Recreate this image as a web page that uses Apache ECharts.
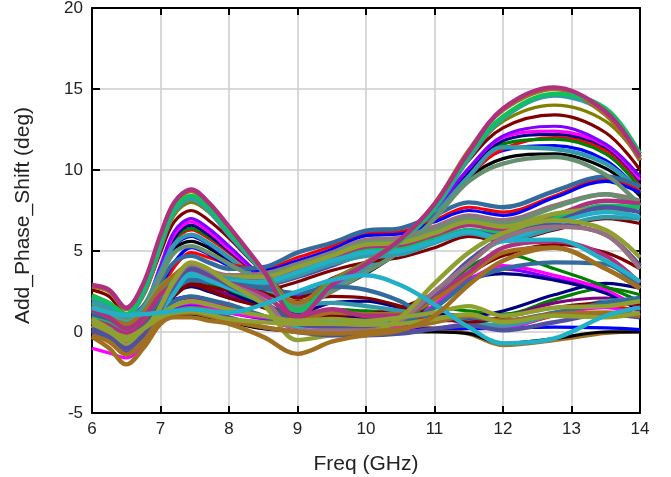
<!DOCTYPE html>
<html><head><meta charset="utf-8">
<script src="https://cdn.jsdelivr.net/npm/echarts@6/dist/echarts.min.js"></script>
<style>html,body{margin:0;background:#fff}#c{width:671px;height:477px}</style></head>
<body><div id="c"></div>
<script>
const freqs=[6,6.25,6.5,6.75,7,7.2,7.45,7.7,8,8.5,9,9.5,10,10.5,11,11.5,12,12.75,13.5,14];
const k='#000000',b='#0000ff',r='#ff0000',g='#008000',n='#000080',m='#ff00ff',v='#8000ff',p='#800080',d='#800000',o='#808000',t='#339aaa',s='#336b9c',a='#99707f',q='#669070',e='#b03080',c='#10c060',l='#50509f',y='#90a030',u='#20b0c8',w='#a07020';
const thin=[k,b,r,g,n,m,v,p,d,o];
// low group
const lowBlack=[0.5,0.1,-0.2,0.4,0.9,1.0,1.0,0.8,0.6,0.2,0.05,0.0,0.0,0.0,0.0,-0.1,-0.7,-0.4,0.0,0.0];
const lowBlue=[1.2,0.8,0.3,0.7,1.6,2.0,2.2,2.0,1.6,0.9,0.4,0.3,0.2,0.2,0.2,0.2,0.25,0.3,0.25,0.15];
const lowRed=[0.6,0.1,-0.4,0.3,1.3,1.9,2.1,1.9,1.6,1.0,0.6,0.6,0.5,0.6,0.9,0.5,0.3,1.0,1.6,1.3];
const lowGreen=[1.1,0.6,0.1,0.8,1.9,2.6,2.9,2.6,2.3,1.7,1.1,1.4,1.3,1.2,1.5,1.3,1.1,2.0,2.7,2.3];
const lowNavy=[1.0,0.6,0.1,0.6,1.6,2.4,2.8,2.5,2.1,1.6,1.2,1.8,1.9,1.5,1.2,1.0,1.3,2.3,3.0,2.7];
const lowMagenta=[-1.0,-1.3,-1.6,-0.8,0.7,1.6,1.9,1.8,1.4,0.8,0.2,0.0,-0.1,0.0,0.2,0.5,0.2,1.1,1.5,1.0];
const lowPurple=[0.6,0.0,-0.7,0.0,1.5,2.6,3.1,2.8,2.3,1.6,0.7,1.0,0.6,0.4,0.7,0.7,0.9,1.8,2.1,1.6];
const lowSlate=[0.2,-0.3,-1.0,-0.2,0.9,1.3,1.4,1.2,0.9,0.3,0.0,-0.2,-0.2,-0.1,0.2,0.4,0.1,0.6,1.1,0.9];
const lowOlive=[0.6,0.1,-0.3,0.2,0.9,1.2,1.3,1.1,0.8,0.6,0.5,0.5,0.45,0.5,0.8,1.1,0.6,1.0,0.9,1.2];
const lowTeal=[1.4,1.0,0.5,1.2,2.4,3.3,3.9,3.6,3.2,2.5,1.7,1.8,1.6,1.3,1.0,0.6,0.4,1.1,1.9,2.0];
const lowSteel=[1.3,0.9,0.4,1.0,1.9,2.6,3.2,3.1,3.0,2.7,2.4,2.8,2.6,1.9,0.8,0.9,0.7,1.2,1.8,2.1];
const lowMaroon=[1.5,1.0,0.4,1.1,2.3,3.0,3.4,3.1,2.8,2.4,1.9,2.2,2.1,1.6,1.0,0.6,0.9,1.5,1.8,1.7];
const lowOlive2=[0.8,0.2,-0.5,0.2,1.1,1.6,1.9,1.7,1.4,1.0,0.7,0.8,0.7,0.9,1.2,1.6,1.0,1.5,1.6,1.9];
const lowBrownFlat=[-0.2,-0.6,-1.4,-0.6,0.8,1.1,1.2,1.0,0.7,0.3,0.0,-0.1,0.0,0.2,0.6,1.0,0.7,1.1,1.2,1.0];
const trough=[1.5,1.2,1.05,1.1,1.2,1.3,1.4,1.3,1.2,1.7,2.5,3.2,3.5,2.9,1.7,0.3,-0.7,-0.4,1.0,1.5];
const troughBrown=[0.9,0.6,0.3,0.6,1.2,1.5,1.6,1.4,1.2,0.9,0.7,0.5,0.4,0.3,0.2,-0.1,-0.8,-0.5,-0.05,0.05];
const bottomBrown=[-0.3,-1.0,-2.0,-1.0,0.5,0.9,0.9,0.7,0.5,-0.3,-1.35,-0.6,-0.2,0.1,1.0,2.9,4.4,5.2,3.9,2.7];
// mid-up group, low at 10 then rising to 4-7
const upOlive=[0.4,-0.1,-0.8,0.0,1.6,3.2,4.3,3.9,3.0,1.7,-0.5,-0.2,-0.1,0.9,3.0,4.9,6.1,6.9,6.3,4.6];
const upSlate=[0.1,-0.5,-1.2,-0.4,1.4,3.0,3.9,3.6,2.9,1.9,0.5,0.3,0.2,0.8,2.4,4.4,5.8,6.6,6.0,4.1];
const upMauve=[0.4,-0.3,-1.0,-0.3,1.5,3.1,4.2,3.8,3.0,2.0,0.1,0.1,0.1,0.7,2.5,4.2,5.8,6.5,6.0,3.9];
const upCyan=[0.7,0.2,-0.5,0.1,1.3,2.4,3.6,3.2,2.7,1.8,0.3,0.6,0.5,0.9,2.4,4.2,5.6,5.7,4.4,3.1];
const upBerry=[1.4,0.9,0.2,0.9,2.3,3.0,3.7,3.4,3.0,2.3,1.0,1.4,1.0,1.0,2.3,3.7,5.2,5.6,4.7,3.0];
const upMaroon=[0.7,0.2,-0.5,0.2,1.4,2.2,2.9,2.6,2.1,1.5,0.8,1.0,1.1,1.5,2.4,3.6,4.7,5.4,4.9,3.9];
const upBrown=[1.5,0.9,0.5,1.2,2.7,3.5,4.2,3.6,3.0,1.8,0.7,1.2,1.1,1.1,2.0,3.5,4.9,5.2,3.9,2.7];
const upGreen=[0.8,0.3,-0.2,0.5,1.8,2.8,3.3,3.0,2.6,1.8,0.9,1.3,1.1,0.9,2.0,4.0,4.8,3.9,2.8,1.9];
const upSteel=[0.4,0.0,-0.5,0.3,1.3,1.9,2.2,2.0,1.7,1.0,0.5,0.6,0.5,0.6,1.5,3.1,3.9,4.3,4.2,2.7];
const upMagenta=[0.3,-0.1,-0.7,0.1,1.1,1.6,1.8,1.6,1.2,0.9,0.7,0.5,0.2,0.4,1.7,3.2,4.1,3.5,2.6,1.4];
const upPurple=[0.0,-0.4,-1.1,-0.4,0.9,1.5,1.7,1.6,1.2,0.8,0.4,0.4,0.7,1.2,2.3,3.3,3.9,3.3,2.5,1.5];
const upNavy=[1.3,0.9,0.3,1.0,2.1,2.9,3.5,3.2,2.5,1.6,1.1,1.0,0.9,1.0,2.0,3.2,3.6,3.2,2.4,1.3];
// mid band, highs at 5-10
const midSteel=[1.7,1.3,0.9,1.6,3.1,4.3,4.7,4.3,3.9,4.0,4.9,5.5,6.25,6.4,7.2,8.0,7.7,8.7,9.6,9.0];
const midRed=[1.2,0.7,0.1,0.6,2.4,4.0,4.9,4.6,4.2,3.9,4.6,5.3,6.1,6.2,6.9,7.7,7.4,8.4,9.45,8.7];
const midBlue=[1.5,1.0,0.3,0.9,2.7,4.3,5.2,4.8,4.1,3.8,4.4,5.1,5.95,6.05,6.8,7.5,7.2,8.3,9.3,8.6];
const midMauve=[0.9,0.4,0.1,0.7,2.1,3.3,4.1,3.8,3.5,3.6,4.2,4.9,5.7,5.8,6.5,7.2,6.9,7.8,8.5,8.1];
const midOlive=[1.3,1.0,0.5,1.4,2.8,3.5,4.0,3.7,3.4,3.4,4.0,4.7,5.4,5.5,6.1,6.8,6.5,7.3,7.6,7.0];
const midSage=[1.6,1.1,0.7,1.3,2.6,3.2,3.6,3.4,3.3,3.5,4.1,4.8,5.55,5.6,6.3,7.0,6.7,7.7,8.5,7.8];
const midBerry=[0.9,0.5,-0.1,0.7,2.2,3.3,3.8,3.6,3.3,3.3,3.8,4.5,5.2,5.3,5.9,6.6,6.3,7.2,8.1,7.9];
const midGreen=[1.0,0.7,0.2,0.9,2.3,3.1,3.4,3.2,3.0,3.1,3.6,4.3,5.0,5.1,5.7,6.3,6.1,7.0,7.8,7.7];
const midSlate=[1.1,0.8,0.3,1.0,2.0,2.8,3.2,3.1,2.9,2.9,3.4,4.1,4.8,4.9,5.6,6.2,5.9,6.8,7.7,7.4];
const midTeal=[1.9,1.5,1.0,1.4,2.7,3.4,3.8,3.5,3.3,3.0,3.5,4.2,4.7,4.8,5.5,6.1,5.7,6.4,7.1,7.0];
const midCyan=[1.3,1.0,0.6,1.1,2.2,3.0,3.5,3.3,3.1,3.1,3.7,4.4,4.9,5.0,5.6,6.2,5.8,6.7,7.4,7.1];
const midMaroon=[0.8,0.4,0.0,0.7,1.8,2.6,3.0,2.8,2.6,2.6,3.1,3.8,4.3,4.6,5.2,5.9,5.6,6.3,7.0,6.7];
// top band, peak at 7.45 and 12.75
const topBlack=[1.6,1.1,0.5,1.3,3.4,5.1,5.6,5.2,4.4,3.1,1.5,2.5,3.6,5.0,7.0,9.5,10.7,11.0,10.1,8.4];
const topBlue=[1.6,1.1,0.5,1.3,3.5,5.3,5.9,5.4,4.5,3.0,1.3,2.6,3.8,5.2,7.4,9.8,11.2,11.5,10.6,8.6];
const topRed=[1.4,1.0,0.5,1.2,3.6,5.6,6.3,5.8,4.9,3.2,1.2,2.6,3.8,5.2,7.3,9.6,11.3,12.0,11.2,9.0];
const topGreen=[1.7,1.3,0.7,1.5,3.8,5.7,6.4,5.9,5.0,3.3,1.4,2.7,3.9,5.3,7.4,9.8,11.6,11.9,11.0,8.9];
const topNavy=[1.9,1.3,0.6,1.3,3.8,5.8,6.6,6.0,5.0,3.3,1.3,2.7,4.0,5.3,7.4,9.9,11.8,12.2,11.4,9.3];
const topMagenta=[2.0,1.4,0.7,1.4,3.9,6.0,6.8,6.2,5.1,3.3,1.2,2.7,4.0,5.4,7.5,10.1,12.0,12.4,11.5,9.4];
const topPurple=[2.1,1.5,0.7,1.5,4.1,6.2,7.0,6.4,5.3,3.4,2.2,3.1,4.1,5.4,7.5,10.1,12.1,12.7,11.6,9.6];
const topMaroon=[2.6,2.2,1.1,2.3,4.9,6.8,7.5,6.9,5.8,3.7,2.1,3.3,4.2,5.6,7.7,10.6,12.6,13.4,12.3,10.0];
const topOlive=[2.3,1.8,1.1,2.2,5.1,7.2,8.0,7.4,6.0,3.8,1.8,3.2,4.3,5.7,7.9,10.8,13.0,14.0,13.0,10.7];
const topTeal=[2.1,1.7,1.0,2.4,5.3,7.4,8.2,7.5,6.0,3.7,1.4,3.0,4.1,5.5,7.6,10.7,13.2,14.6,13.5,10.6];
const topGreen2=[2.2,1.8,1.1,2.6,5.6,7.6,8.4,7.7,6.2,3.8,1.3,3.0,4.2,5.6,7.7,10.9,13.3,14.7,13.8,11.0];
const topSage=[1.8,1.4,0.8,1.5,3.4,4.9,5.3,4.9,4.2,3.0,1.6,2.5,3.7,5.0,7.0,9.3,10.4,10.8,9.7,7.8];
const topTeal2=[1.5,1.2,0.8,1.6,3.7,5.4,6.0,5.5,4.6,3.0,1.3,2.6,3.8,5.2,7.2,9.6,11.4,11.3,10.4,8.6];
const topBrown=[2.8,2.5,1.4,2.9,5.9,7.9,8.7,7.9,6.4,3.8,1.8,3.2,4.3,5.7,7.9,11.2,13.7,15.0,13.4,10.6];
const topBerry=[2.9,2.6,1.5,3.0,6.0,8.0,8.8,8.0,6.5,3.8,0.9,2.9,4.2,5.7,7.9,11.1,13.8,15.1,13.6,10.8];
const lines=[[troughBrown,w],[lowBlack,k],[lowBlue,b],[lowRed,r],[lowGreen,g],[lowNavy,n],[lowMagenta,m],[lowPurple,p],[topBlack,k],[topBlue,b],[topRed,r],[topGreen,g],[topNavy,n],[topMagenta,m],[topPurple,v],[upPurple,v],[upNavy,n],[upMagenta,m],[upGreen,g],[topMaroon,d],[topOlive,o],[topTeal2,t],[midRed,r],[midBlue,b],[midSteel,s],[upMaroon,d],[lowTeal,t],[lowMaroon,d],[topTeal,t],[midMaroon,d],[midMauve,a],[topSage,q],[midSage,q],[midBerry,e],[midGreen,c],[midOlive,y],[midSlate,l],[midTeal,t],[midCyan,u],[upSteel,s],[lowSteel,s],[upBrown,w],[upBerry,e],[upCyan,u],[upSlate,l],[upMauve,a],[upOlive,y],[topBrown,w],[topGreen2,c],[topBerry,e],[lowSlate,l],[lowOlive2,y],[lowBrownFlat,w],[lowOlive,y],[trough,u],[bottomBrown,w]];
const lc={color:'#000',width:2};
const chart=echarts.init(document.getElementById('c'),null,{renderer:'canvas'});
const txt={color:'#222222',fontFamily:'Liberation Sans',fontSize:17};
chart.setOption({animation:false,backgroundColor:'#fff',
grid:{left:92,top:8,width:548,height:405,containLabel:false,outerBoundsMode:'none'},
xAxis:[{type:'value',min:6,max:14,interval:1,axisLine:{onZero:false,lineStyle:lc},axisTick:{inside:true,length:7,lineStyle:lc},axisLabel:{...txt,margin:8},splitLine:{show:true,lineStyle:{color:'#cccccc',width:1.5}},name:'Freq (GHz)',nameLocation:'middle',nameGap:41,nameTextStyle:{...txt,fontSize:21}},
{type:'value',position:'top',min:6,max:14,interval:1,axisLine:{onZero:false,lineStyle:lc},axisTick:{inside:true,length:7,lineStyle:lc},axisLabel:{show:false},splitLine:{show:false}}],
yAxis:[{type:'value',min:-5,max:20,interval:5,axisLine:{onZero:false,lineStyle:lc},axisTick:{inside:true,length:8,lineStyle:lc},axisLabel:{...txt,margin:9},splitLine:{show:true,lineStyle:{color:'#cccccc',width:1.5}},name:'Add_Phase_Shift (deg)',nameLocation:'middle',nameGap:58,nameTextStyle:{...txt,fontSize:21,padding:[0,10,0,0]}},
{type:'value',position:'right',min:-5,max:20,interval:5,axisLine:{onZero:false,lineStyle:lc},axisTick:{inside:true,length:8,lineStyle:lc},axisLabel:{show:false},splitLine:{show:false}}],
series:lines.map(([vals,col])=>({type:'line',showSymbol:false,symbol:'none',smooth:0.35,data:vals.map((val,i)=>[freqs[i],val]),lineStyle:{color:col,width:thin.includes(col)?3.2:4.4},z:2}))
});
</script></body></html>
